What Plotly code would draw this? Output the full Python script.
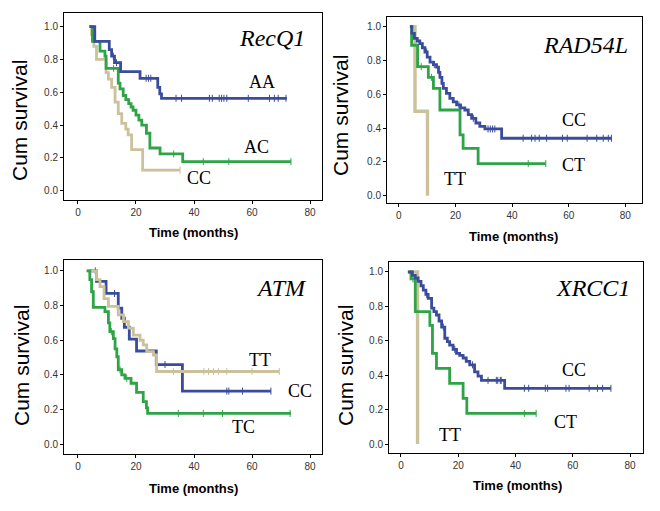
import plotly.graph_objects as go

BLUE = "#3B4C9C"
GREEN = "#2EA447"
TAN = "#CBC29B"

# ---------------- Panel 1: RecQ1 ----------------
recq1_AA_t = [4.0, 5.8, 10.8, 11.6, 12.6, 14.7, 21.4, 27.5, 28.2, 28.8, 72.0]
recq1_AA_s = [1.0, 0.91, 0.86, 0.82, 0.78, 0.725, 0.685, 0.63, 0.59, 0.563, 0.563]
recq1_AA_c = [12.2, 13.3, 23.5, 24.3, 25.1, 33.8, 35.7, 45.3, 46.3, 48.7, 49.5, 50.3, 51.3, 58.7, 66.0, 67.7, 69.0, 71.7]

recq1_AC_t = [4.0, 5.0, 7.6, 9.3, 9.7, 13.9, 14.5, 15.6, 16.5, 17.5, 18.3, 19.0, 20.0, 21.0, 22.0, 23.6, 24.8, 28.3, 36.1, 73.4]
recq1_AC_s = [1.0, 0.91, 0.85, 0.82, 0.746, 0.655, 0.62, 0.58, 0.555, 0.53, 0.51, 0.49, 0.46, 0.43, 0.40, 0.35, 0.26, 0.224, 0.177, 0.177]
recq1_AC_c = [12.3, 33.0, 43.2, 52.0, 73.4]

recq1_CC_t = [3.8, 4.7, 5.5, 6.4, 9.7, 10.5, 11.6, 12.8, 13.9, 15.1, 16.5, 17.3, 18.5, 22.3, 35.2]
recq1_CC_s = [1.0, 0.95, 0.88, 0.80, 0.72, 0.68, 0.63, 0.54, 0.47, 0.41, 0.375, 0.34, 0.25, 0.125, 0.125]
recq1_CC_c = [35.2]

# ---------------- Panel 2: RAD54L ----------------
rad_CC_t = [3.9, 4.6, 5.5, 6.5, 7.4, 8.3, 9.2, 10.0, 11.0, 12.2, 13.3, 14.0, 14.5, 15.2, 15.7, 16.8, 18.0, 19.2, 20.4, 21.8, 23.3, 24.5, 25.7, 27.2, 28.6, 30.4, 36.3, 75.1]
rad_CC_s = [1.0, 0.96, 0.93, 0.915, 0.90, 0.875, 0.85, 0.82, 0.79, 0.775, 0.76, 0.73, 0.70, 0.665, 0.635, 0.605, 0.576, 0.555, 0.537, 0.52, 0.507, 0.48, 0.458, 0.43, 0.41, 0.395, 0.34, 0.34]
rad_CC_c = [9.8, 12.5, 21.2, 26.3, 31.5, 32.3, 33.1, 33.9, 43.9, 46.9, 48.1, 49.6, 52.2, 57.8, 59.5, 66.5, 69.9, 72.2, 74.0, 75.1]

rad_CT_t = [3.9, 4.5, 6.6, 10.4, 12.2, 14.5, 21.6, 22.7, 28.0, 51.9]
rad_CT_s = [1.0, 0.89, 0.763, 0.70, 0.635, 0.507, 0.36, 0.28, 0.19, 0.19]
rad_CT_c = [7.9, 11.5, 45.7, 51.9]

rad_TT_t = [3.9, 5.7, 10.1]
rad_TT_s = [1.0, 0.5, 0.0]
rad_TT_c = []

# ---------------- Panel 3: ATM ----------------
atm_CC_t = [4.0, 6.4, 9.7, 13.9, 15.1, 16.0, 17.7, 20.2, 27.0, 36.0, 66.5]
atm_CC_s = [1.0, 0.94, 0.87, 0.785, 0.727, 0.675, 0.607, 0.538, 0.46, 0.307, 0.307]
atm_CC_c = [6.0, 12.6, 30.0, 51.3, 52.0, 56.7, 66.5]

atm_TT_t = [3.0, 6.4, 7.6, 9.0, 10.5, 13.9, 15.7, 17.4, 19.1, 21.4, 22.5, 23.7, 26.0, 27.1, 69.4]
atm_TT_s = [1.0, 0.95, 0.91, 0.84, 0.795, 0.746, 0.708, 0.67, 0.63, 0.60, 0.573, 0.534, 0.515, 0.42, 0.42]
atm_TT_c = [32.9, 43.4, 45.0, 46.7, 48.4, 51.3, 60.0, 69.4]

atm_TC_t = [3.0, 4.1, 4.7, 5.3, 9.3, 10.5, 11.0, 12.2, 12.8, 13.4, 13.9, 15.1, 16.2, 18.3, 20.2, 22.5, 23.6, 24.0, 73.4]
atm_TC_s = [1.0, 0.95, 0.88, 0.79, 0.765, 0.70, 0.65, 0.61, 0.55, 0.505, 0.43, 0.40, 0.38, 0.352, 0.30, 0.246, 0.21, 0.178, 0.178]
atm_TC_c = [11.5, 14.5, 16.8, 34.6, 43.2, 49.8, 73.1]

# ---------------- Panel 4: XRCC1 ----------------
xr_CC_t = [2.4, 4.0, 5.0, 6.0, 7.0, 7.8, 8.7, 9.5, 10.7, 11.5, 12.4, 13.3, 14.2, 15.3, 16.2, 17.0, 18.2, 19.4, 20.5, 21.7, 22.8, 24.0, 25.7, 26.9, 28.1, 36.2, 73.3]
xr_CC_s = [1.0, 0.98, 0.965, 0.945, 0.92, 0.895, 0.87, 0.847, 0.79, 0.77, 0.75, 0.715, 0.68, 0.615, 0.595, 0.575, 0.55, 0.527, 0.515, 0.50, 0.48, 0.46, 0.42, 0.395, 0.37, 0.324, 0.324]
xr_CC_c = [9.0, 14.8, 18.8, 25.0, 30.4, 33.3, 33.8, 34.7, 35.0, 43.1, 44.6, 50.4, 51.2, 57.6, 58.7, 65.7, 68.6, 70.4, 73.3]

xr_CT_t = [3.0, 3.5, 5.0, 10.1, 11.0, 12.4, 17.0, 21.7, 23.0, 47.2]
xr_CT_s = [1.0, 0.96, 0.77, 0.69, 0.527, 0.44, 0.353, 0.266, 0.178, 0.178]
xr_CT_c = [4.2, 43.1, 47.2]

xr_TT_t = [2.5, 5.8]
xr_TT_s = [1.0, 0.0]
xr_TT_c = []

y_ticks = [0.0, 0.2, 0.4, 0.6, 0.8, 1.0]
y_tick_text = ["0.0", "0.2", "0.4", "0.6", "0.8", "1.0"]
x_ticks = [0, 20, 40, 60, 80]

panels = [
    dict(gene="RecQ1", ax="", series=[
        (recq1_CC_t, recq1_CC_s, recq1_CC_c, TAN),
        (recq1_AC_t, recq1_AC_s, recq1_AC_c, GREEN),
        (recq1_AA_t, recq1_AA_s, recq1_AA_c, BLUE)],
        labels=[("AA", 63.4, 0.66), ("AC", 61.4, 0.266), ("CC", 41.7, 0.077)],
        gene_pos=(67, 0.93),
        xdom=[64/660, 322/660], ydom=[1-200/511, 1-13/511],
        xr=[-4.8, 84.1], yr=[-0.057, 1.083]),
    dict(gene="RAD54L", ax="2", series=[
        (rad_TT_t, rad_TT_s, rad_TT_c, TAN),
        (rad_CT_t, rad_CT_s, rad_CT_c, GREEN),
        (rad_CC_t, rad_CC_s, rad_CC_c, BLUE)],
        labels=[("CC", 61.8, 0.448), ("CT", 61.8, 0.18), ("TT", 19.8, 0.10)],
        gene_pos=(66, 0.89),
        xdom=[387/660, 642/660], ydom=[1-203/511, 1-17/511],
        xr=[-4.2, 85.9], yr=[-0.043, 1.057]),
    dict(gene="ATM", ax="3", series=[
        (atm_CC_t, atm_CC_s, atm_CC_c, BLUE),
        (atm_TT_t, atm_TT_s, atm_TT_c, TAN),
        (atm_TC_t, atm_TC_s, atm_TC_c, GREEN)],
        labels=[("TT", 62.8, 0.486), ("CC", 76.5, 0.307), ("TC", 57.0, 0.098)],
        gene_pos=(70.2, 0.90),
        xdom=[64/660, 322/660], ydom=[1-454/511, 1-260/511],
        xr=[-4.8, 84.1], yr=[-0.056, 1.063]),
    dict(gene="XRCC1", ax="4", series=[
        (xr_TT_t, xr_TT_s, xr_TT_c, TAN),
        (xr_CT_t, xr_CT_s, xr_CT_c, GREEN),
        (xr_CC_t, xr_CC_s, xr_CC_c, BLUE)],
        labels=[("CC", 60.3, 0.43), ("CT", 57.6, 0.13), ("TT", 17.0, 0.052)],
        gene_pos=(66.9, 0.905),
        xdom=[389/660, 643/660], ydom=[1-453/511, 1-262/511],
        xr=[-4.17, 84.5], yr=[-0.052, 1.058]),
]


def step_value(ts, ss, t):
    val = ss[0]
    for ti, si in zip(ts, ss):
        if ti <= t:
            val = si
    return val


fig = go.Figure()
annotations = []
layout = {}
for p in panels:
    ax = p["ax"]
    xa, ya = "x" + ax, "y" + ax
    for ts, ss, cs, col in p["series"]:
        w = 3.4 if col == TAN and len(ts) <= 3 else 2.8
        fig.add_trace(go.Scatter(x=ts, y=ss, mode="lines", line=dict(color=col, width=w, shape="hv"),
                                 xaxis=xa, yaxis=ya, showlegend=False, hoverinfo="skip"))
        if cs:
            fig.add_trace(go.Scatter(x=cs, y=[step_value(ts, ss, c) for c in cs], mode="markers",
                                     marker=dict(symbol="line-ns", size=5, line=dict(color=col, width=1)),
                                     xaxis=xa, yaxis=ya, showlegend=False, hoverinfo="skip"))
    common = dict(showgrid=False, zeroline=False, showline=True, linecolor="black", linewidth=1,
                  mirror=True, ticks="outside", ticklen=3, tickcolor="black",
                  tickfont=dict(family="Arial, Liberation Sans", size=10, color="#333"))
    layout["xaxis" + ax] = dict(domain=p["xdom"], range=p["xr"], tickvals=x_ticks, anchor=ya, **common)
    layout["yaxis" + ax] = dict(domain=p["ydom"], range=p["yr"], tickvals=y_ticks, ticktext=y_tick_text,
                                anchor=xa, **common)
    annotations.append(dict(x=p["gene_pos"][0], y=p["gene_pos"][1], xref=xa, yref=ya, text="<i>%s</i>" % p["gene"],
                            showarrow=False, xanchor="center", yanchor="middle",
                            font=dict(family="Liberation Serif", size=24, color="black")))
    for txt, lx, ly in p["labels"]:
        annotations.append(dict(x=lx, y=ly, xref=xa, yref=ya, text=txt, showarrow=False,
                                xanchor="center", yanchor="middle",
                                font=dict(family="Liberation Serif", size=18, color="black")))

# axis titles
ytitle_pos = [(20, 121), (340, 116), (21, 366), (345, 366)]
xtitle_pos = [(193, 233), (513, 237), (193, 488), (517, 485)]
for (px, py) in ytitle_pos:
    annotations.append(dict(x=px/660, y=1-py/511, xref="paper", yref="paper", text="Cum survival",
                            textangle=-90, showarrow=False, xanchor="center", yanchor="middle",
                            font=dict(family="Arial, Liberation Sans", size=21, color="black")))
for (px, py) in xtitle_pos:
    annotations.append(dict(x=px/660, y=1-py/511, xref="paper", yref="paper", text="<b>Time (months)</b>",
                            showarrow=False, xanchor="center", yanchor="middle",
                            font=dict(family="Arial, Liberation Sans", size=13, color="black")))

fig.update_layout(width=660, height=511, margin=dict(l=0, r=0, t=0, b=0),
                  paper_bgcolor="white", plot_bgcolor="white", annotations=annotations, **layout)
fig.write_html("out.html", config={"displayModeBar": False},
               post_script="document.body.style.margin='0px';")
